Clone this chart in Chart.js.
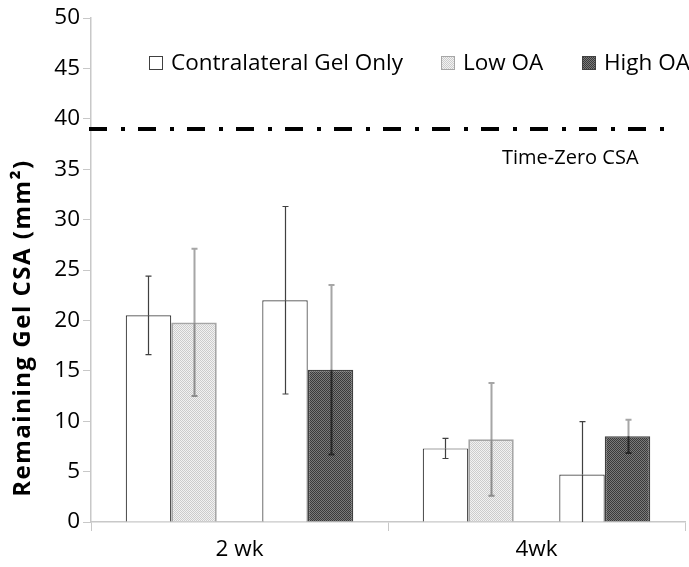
<!DOCTYPE html>
<html>
<head>
<meta charset="utf-8">
<script src="https://cdn.jsdelivr.net/npm/chart.js@4.4.0/dist/chart.umd.min.js"></script>
<style>
  html, body { margin: 0; padding: 0; background: #fff; }
  #wrap { width: 689px; height: 567px; position: relative; }
</style>
</head>
<body>
<div id="wrap"><canvas id="c" width="689" height="567"></canvas></div>
<script>
// ---- data ----
const categories = ['2 wk', '4wk'];
const contraVsLow = [20.5, 7.3];
const contraVsLowErr = [3.9, 1.0];
const lowOA = [19.8, 8.2];
const lowOAErr = [7.3, 5.6];
const contraVsHigh = [22.0, 4.7];
const contraVsHighErr = [9.3, 5.25];
const highOA = [15.1, 8.5];
const highOAErr = [8.4, 1.65];
const timeZeroCSA = 39;
const yTicksMin = 0, yTicksMax = 50, yTicksStep = 5;
const legendLabels = ['Contralateral Gel Only', 'Low OA', 'High OA'];
const yTitle = 'Remaining Gel CSA (mm²)';
const refLabel = 'Time-Zero CSA';

const FONT = "'Open Sans', sans-serif";

function checker(c1, c2) {
  const p = document.createElement('canvas');
  p.width = 2; p.height = 2;
  const g = p.getContext('2d');
  g.fillStyle = c1; g.fillRect(0, 0, 2, 2);
  g.fillStyle = c2; g.fillRect(0, 0, 1, 1); g.fillRect(1, 1, 1, 1);
  return document.getElementById('c').getContext('2d').createPattern(p, 'repeat');
}
const lowFill = checker('#f2f2f2', '#cccccc');
const highFill = checker('#7a7a7a', '#3a3a3a');

const errStyles = {
  0: { up: '#404040', down: '#404040', w: 1.2 },
  1: { up: '#a6a6a6', down: '#8c8c8c', w: 2 },
  3: { up: '#404040', down: '#404040', w: 1.2 },
  4: { up: '#a6a6a6', down: '#262626', w: 2 }
};

const errorBars = {
  id: 'errorBars',
  afterDatasetsDraw(chart) {
    const ctx = chart.ctx, y = chart.scales.y, area = chart.chartArea;
    chart.data.datasets.forEach((ds, i) => {
      if (!ds.errors) return;
      const meta = chart.getDatasetMeta(i);
      const st = errStyles[i];
      meta.data.forEach((bar, j) => {
        const v = ds.data[j], e = ds.errors[j];
        if (v == null) return;
        const x = Math.round(bar.x) + 0.5;
        const yc = y.getPixelForValue(v);
        const yt = y.getPixelForValue(v + e);
        const rawB = y.getPixelForValue(v - e);
        const yb = Math.min(rawB, area.bottom);
        ctx.save();
        ctx.lineWidth = st.w;
        ctx.strokeStyle = st.up;
        ctx.beginPath(); ctx.moveTo(x, yc); ctx.lineTo(x, yt);
        ctx.moveTo(x - 3, yt); ctx.lineTo(x + 3, yt); ctx.stroke();
        ctx.strokeStyle = st.down;
        ctx.beginPath(); ctx.moveTo(x, yc); ctx.lineTo(x, yb);
        if (rawB <= area.bottom) { ctx.moveTo(x - 3, yb); ctx.lineTo(x + 3, yb); }
        ctx.stroke();
        ctx.restore();
      });
    });
  }
};

const extras = {
  id: 'extras',
  afterDraw(chart) {
    const ctx = chart.ctx, y = chart.scales.y, area = chart.chartArea;
    // reference line
    const yy = Math.round(y.getPixelForValue(timeZeroCSA));
    ctx.save();
    ctx.strokeStyle = '#000';
    ctx.lineWidth = 4;
    ctx.setLineDash([18, 14, 4, 13]);
    ctx.beginPath();
    ctx.moveTo(area.left - 2, yy);
    ctx.lineTo(area.right - 18, yy);
    ctx.stroke();
    ctx.setLineDash([]);
    // reference label
    ctx.fillStyle = '#000';
    ctx.font = '20px ' + FONT;
    ctx.textBaseline = 'middle';
    ctx.textAlign = 'left';
    ctx.fillText(refLabel, 502, yy + 29);
    // legend
    const items = [
      { x: 149, fill: '#ffffff', stroke: '#404040', label: legendLabels[0] },
      { x: 441, fill: lowFill, stroke: '#a6a6a6', label: legendLabels[1] },
      { x: 582, fill: highFill, stroke: '#404040', label: legendLabels[2] }
    ];
    ctx.font = '22.5px ' + FONT;
    items.forEach(it => {
      ctx.fillStyle = it.fill;
      ctx.fillRect(it.x, 56, 14, 14);
      ctx.strokeStyle = it.stroke; ctx.lineWidth = 1;
      ctx.strokeRect(it.x + 0.5, 56.5, 13, 13);
      ctx.fillStyle = '#000';
      ctx.fillText(it.label, it.x + 22, 64);
    });
    // y title
    ctx.save();
    ctx.translate(23, 328);
    ctx.rotate(-Math.PI / 2);
    ctx.font = 'bold 24px ' + FONT;
    try { ctx.letterSpacing = '1.5px'; } catch (e) {}
    ctx.textAlign = 'center';
    ctx.textBaseline = 'middle';
    ctx.fillText(yTitle, 0, 0);
    ctx.restore();
    ctx.restore();
  }
};

new Chart(document.getElementById('c'), {
  type: 'bar',
  data: {
    labels: categories,
    datasets: [
      { label: legendLabels[0], data: contraVsLow, errors: contraVsLowErr,
        backgroundColor: '#ffffff', borderColor: '#404040', borderWidth: 1.2 },
      { label: legendLabels[1], data: lowOA, errors: lowOAErr,
        backgroundColor: lowFill, borderColor: '#a6a6a6', borderWidth: 2 },
      { label: '', data: [null, null] },
      { label: legendLabels[0], data: contraVsHigh, errors: contraVsHighErr,
        backgroundColor: '#ffffff', borderColor: '#404040', borderWidth: 1.2 },
      { label: legendLabels[2], data: highOA, errors: highOAErr,
        backgroundColor: highFill, borderColor: '#404040', borderWidth: 1.5 }
    ]
  },
  options: {
    responsive: false,
    animation: false,
    events: [],
    categoryPercentage: 0.766,
    barPercentage: 1.0,
    layout: { padding: { top: 18, right: 4, left: 0, bottom: 0 } },
    plugins: { legend: { display: false }, tooltip: { enabled: false } },
    scales: {
      x: {
        grid: { drawOnChartArea: false, drawTicks: true, tickLength: 9, color: '#c8c8c8', offset: true },
        border: { color: '#c8c8c8', width: 1.5 },
        ticks: { color: '#000', font: { family: FONT, size: 22.5 }, padding: 5 },
        afterFit(s) { s.height = 45; }
      },
      y: {
        min: yTicksMin, max: yTicksMax,
        grid: { drawOnChartArea: false, drawTicks: true, tickLength: 8, color: '#c8c8c8' },
        border: { color: '#c8c8c8', width: 1.5 },
        ticks: { stepSize: yTicksStep, color: '#000', font: { family: FONT, size: 22.5 }, padding: 3 },
        afterFit(s) { s.width = 91; }
      }
    }
  },
  plugins: [errorBars, extras]
});
</script>
</body>
</html>
